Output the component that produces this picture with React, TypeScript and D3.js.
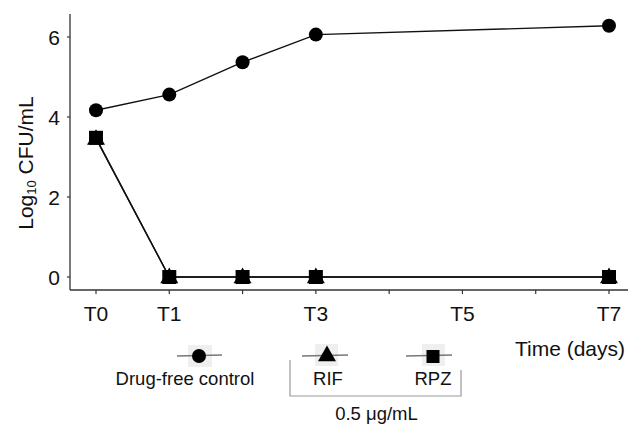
import React from "react";
import * as d3 from "d3";

const days = [0, 1, 2, 3, 7];
const controlValues = [4.17, 4.56, 5.37, 6.06, 6.28];
const rifValues = [3.46, 0, 0, 0, 0];
const rpzValues = [3.48, 0, 0, 0, 0];
const xTickDays = [0, 1, 2, 3, 4, 5, 6, 7];
const xTickLabels: Record<number, string> = { 0: "T0", 1: "T1", 3: "T3", 5: "T5", 7: "T7" };
const yTicks = [0, 2, 4, 6];

const W = 628;
const H = 426;
const font = "Liberation Sans, Arial, sans-serif";

const x = d3.scaleLinear().domain([0, 7]).range([96, 609]);
const y = d3.scaleLinear().domain([0, 6]).range([277, 37]);

const line = d3
  .line<number>()
  .x((_, i) => x(days[i]))
  .y((d) => y(d));

const triangle = d3.symbol().type(d3.symbolTriangle).size(140)();

const Circle = ({ cx, cy }: { cx: number; cy: number }) => (
  <circle cx={cx} cy={cy} r={7} fill="#000" />
);
const Square = ({ cx, cy, s = 14 }: { cx: number; cy: number; s?: number }) => (
  <rect x={cx - s / 2} y={cy - s / 2} width={s} height={s} fill="#000" />
);
const Tri = ({ cx, cy }: { cx: number; cy: number }) => (
  <path d={triangle || ""} transform={`translate(${cx},${cy + 1})`} fill="#000" />
);

const App = () => {
  return (
    <svg
      width={W}
      height={H}
      style={{ position: "absolute", left: 0, top: 0, background: "#fff" }}
      fontFamily={font}
    >
      {/* axes */}
      <line x1={70} x2={70} y1={14} y2={290} stroke="#333" strokeWidth={1.3} />
      <line x1={70} x2={628} y1={290} y2={290} stroke="#333" strokeWidth={1.3} />
      {yTicks.map((t) => (
        <g key={t}>
          <line x1={67} x2={70} y1={y(t)} y2={y(t)} stroke="#333" strokeWidth={1.2} />
          <text x={60} y={y(t)} dy="0.36em" textAnchor="end" fontSize={21} fill="#111">
            {t}
          </text>
        </g>
      ))}
      {xTickDays.map((d) => (
        <g key={d}>
          <line x1={x(d)} x2={x(d)} y1={290} y2={294} stroke="#333" strokeWidth={1.2} />
          {xTickLabels[d] && (
            <text x={x(d)} y={321} textAnchor="middle" fontSize={21} fill="#111">
              {xTickLabels[d]}
            </text>
          )}
        </g>
      ))}
      <text x={625} y={356} textAnchor="end" fontSize={21} fill="#111">
        Time (days)
      </text>
      <text
        transform={`translate(33,163) rotate(-90)`}
        textAnchor="middle"
        fontSize={21}
        fill="#111"
      >
        Log<tspan fontSize={13} dy={3}>10</tspan>
        <tspan dy={-3}> CFU/mL</tspan>
      </text>

      {/* series */}
      <path d={line(controlValues) || ""} fill="none" stroke="#111" strokeWidth={1.4} />
      <path d={line(rifValues) || ""} fill="none" stroke="#111" strokeWidth={1.4} />
      <path d={line(rpzValues) || ""} fill="none" stroke="#111" strokeWidth={1.4} />
      {rifValues.map((v, i) => (
        <Tri key={"t" + i} cx={x(days[i])} cy={y(v)} />
      ))}
      {rpzValues.map((v, i) => (
        <Square key={"s" + i} cx={x(days[i])} cy={y(v)} />
      ))}
      {controlValues.map((v, i) => (
        <Circle key={"c" + i} cx={x(days[i])} cy={y(v)} />
      ))}

      {/* legend */}
      <rect x={188} y={345} width={24} height={22} fill="#efefef" />
      <line x1={177} x2={222} y1={356} y2={355} stroke="#777" strokeWidth={1.3} />
      <Circle cx={199} cy={356} />
      <text x={185} y={385} textAnchor="middle" fontSize={18.5} fill="#111">
        Drug-free control
      </text>

      <rect x={315} y={344} width={23} height={22} fill="#efefef" />
      <line x1={302} x2={348} y1={356} y2={355} stroke="#777" strokeWidth={1.3} />
      <Tri cx={327} cy={355} />
      <text x={328} y={385} textAnchor="middle" fontSize={18.5} fill="#111">
        RIF
      </text>

      <rect x={422} y={344} width={23} height={22} fill="#efefef" />
      <line x1={406} x2={452} y1={356} y2={355} stroke="#777" strokeWidth={1.3} />
      <Square cx={433} cy={356.5} s={13} />
      <text x={433} y={385} textAnchor="middle" fontSize={18.5} fill="#111">
        RPZ
      </text>

      <path d="M290,360 V396 H461 V370" fill="none" stroke="#999" strokeWidth={1.2} />
      <text x={376.5} y={420} textAnchor="middle" fontSize={18.5} fill="#111">
        0.5 μg/mL
      </text>
    </svg>
  );
};

export default App;
